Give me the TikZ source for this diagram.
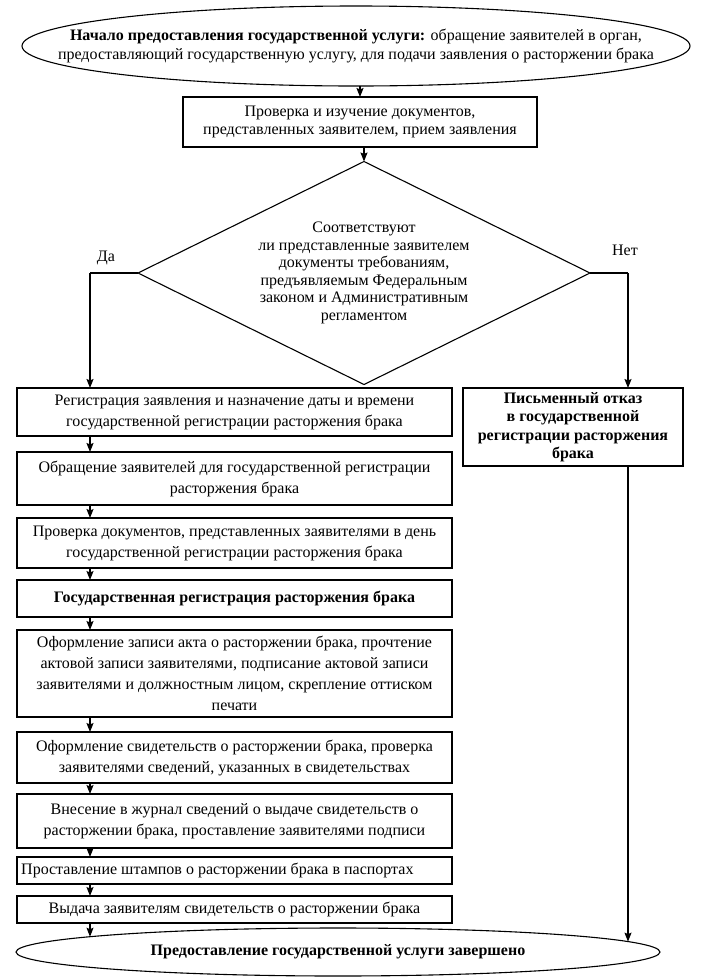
\documentclass[tikz,border=0pt]{standalone}
\usepackage{fontspec}
\setmainfont{Liberation Serif}
\usetikzlibrary{shapes.geometric,arrows.meta,calc}
\begin{document}
\begin{tikzpicture}[x=1pt,y=-1pt,
  every node/.style={font=\fontsize{16}{17.5}\selectfont, align=center},
  box/.style={draw, line width=1.1pt, rectangle, inner sep=0pt, outer sep=0pt},
  lbox/.style={box, minimum width=435pt, font=\fontsize{16}{21}\selectfont},
  oval/.style={draw, line width=1.1pt, ellipse, inner sep=0pt, outer sep=0pt},
  arr/.style={line width=1.1pt, -{Stealth[length=9pt,width=7pt,inset=1.5pt]}},
  ln/.style={line width=1.1pt}]
\useasboundingbox (0,0) rectangle (710,978);
\fill[white] (0,0) rectangle (710,978);

\node[oval, minimum width=668pt, minimum height=80pt] (start) at (356,46) {};
\node[font=\fontsize{16}{19}\selectfont] (starttxt) at (start.center)
  {\textbf{Начало предоставления государственной услуги:} обращение заявителей в орган,\\
   предоставляющий государственную услугу, для подачи заявления о расторжении брака};

\node[box, minimum width=354pt, minimum height=50pt] (check) at (360,122)
  {Проверка и изучение документов,\\ представленных заявителем, прием заявления};

\node[draw, line width=1.1pt, diamond, aspect=2.03, inner sep=0pt, outer sep=0pt,
      minimum width=452pt, minimum height=223pt] (dec) at (364,273)
  {Соответствуют\\ ли представленные заявителем\\ документы требованиям,\\
   предъявляемым Федеральным\\ законом и Административным\\ регламентом};

\node (yes) at (106,258) {Да};
\node (no) at (625,250) {Нет};

\node[box, minimum width=220pt, minimum height=78pt, font=\bfseries\fontsize{16}{18.5}\selectfont] (refuse) at (573,427)
  {Письменный отказ\\ в государственной\\ регистрации расторжения\\ брака};

\node[lbox, minimum height=48pt] (b1) at (234.5,412)
  {Регистрация заявления и назначение даты и времени\\ государственной регистрации расторжения брака};
\node[lbox, minimum height=53pt] (b2) at (234.5,478.5)
  {Обращение заявителей для государственной регистрации\\ расторжения брака};
\node[lbox, minimum height=50pt] (b3) at (234.5,543)
  {Проверка документов, представленных заявителями в день\\ государственной регистрации расторжения брака};
\node[lbox, minimum height=37pt, font=\bfseries\fontsize{16}{21}\selectfont] (b4) at (234.5,598.5)
  {Государственная регистрация расторжения брака};
\node[lbox, minimum height=87pt] (b5) at (234.5,673.5)
  {Оформление записи акта о расторжении брака, прочтение\\ актовой записи заявителями, подписание актовой записи\\ заявителями и должностным лицом, скрепление оттиском\\ печати};
\node[lbox, minimum height=51pt] (b6) at (234.5,757.5)
  {Оформление свидетельств о расторжении брака, проверка\\ заявителями сведений, указанных в свидетельствах};
\node[lbox, minimum height=54pt] (b7) at (234.5,821)
  {Внесение в журнал сведений о выдаче свидетельств о\\ расторжении брака, проставление заявителями подписи};
\node[lbox, minimum height=27pt] (b8) at (234.5,870.5) {};
\node[anchor=west, inner sep=0pt, font=\fontsize{16}{21}\selectfont] (b8txt) at ([xshift=4pt]b8.west)
  {Проставление штампов о расторжении брака в паспортах};
\node[lbox, minimum height=27pt] (b9) at (234.5,909.5)
  {Выдача заявителям свидетельств о расторжении брака};

\node[oval, minimum width=644pt, minimum height=48pt] (fin) at (338,952) {};
\node[font=\bfseries\fontsize{16}{19}\selectfont] (fintxt) at (fin.center)
  {Предоставление государственной услуги завершено};

\coordinate (yx) at (90,273);
\coordinate (nx) at (628,273);
\coordinate (finL) at ($(fin.center)+(-248,-15.3)$);
\coordinate (finR) at ($(fin.center)+(290,-10.4)$);

\draw[arr] (start.south -| check.north) -- (check.north);
\draw[arr] (check.south -| dec.north) -- (dec.north);
\draw[ln] (dec.west) -- (yx);
\draw[arr] (yx) -- (yx |- b1.north);
\draw[ln] (dec.east) -- (nx);
\draw[arr] (nx) -- (nx |- refuse.north);
\foreach \a/\b in {b1/b2,b2/b3,b3/b4,b4/b5,b5/b6,b6/b7,b7/b8,b8/b9}
  \draw[arr] (\a.south -| yx) -- (\b.north -| yx);
\draw[arr] (b9.south -| finL) -- (finL);
\draw[arr] (refuse.south -| finR) -- (finR);
\end{tikzpicture}
\end{document}
